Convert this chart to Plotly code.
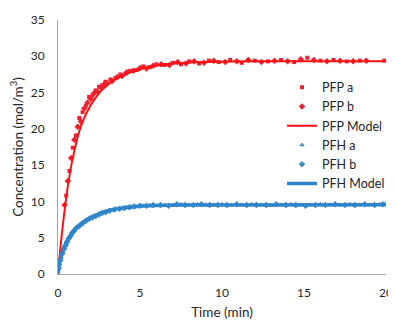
import plotly.graph_objects as go

# ---- data ----
pfp_a_t = [0.5, 0.7, 0.9, 1.1, 1.3, 1.5, 1.7, 1.9, 2.1, 2.3,
           2.5, 2.7, 2.9, 3.2, 3.5, 3.8, 4.1, 4.4, 4.8, 5.2,
           5.6, 6.0, 6.5, 7.0, 7.5, 8.0, 8.6, 9.2, 9.8, 10.5,
           11.2, 12.0, 12.8, 13.6, 14.4, 15.2, 16.0, 16.8, 17.6, 18.4, 19.9]
pfp_a_c = [10.8, 14.2, 17.4, 19.1, 21.5, 22.3, 23.2, 24.4, 24.6, 25.3,
           25.8, 26.0, 26.5, 26.8, 27.0, 27.5, 27.6, 28.0, 28.1, 28.6,
           28.5, 28.9, 28.8, 29.1, 28.9, 29.3, 29.0, 29.4, 29.2, 29.5,
           29.1, 29.4, 29.3, 29.5, 29.2, 29.8, 29.4, 29.5, 29.3, 29.4, 29.4]

pfp_b_t = [0.4, 0.6, 0.8, 1.0, 1.2, 1.4, 1.6, 1.8, 2.0, 2.2,
           2.4, 2.6, 2.8, 3.0, 3.3, 3.6, 3.9, 4.2, 4.6, 5.0,
           5.4, 5.8, 6.3, 6.8, 7.3, 7.8, 8.3, 8.9, 9.5, 10.2,
           10.9, 11.6, 12.4, 13.2, 14.0, 14.8, 15.6, 16.4, 17.2, 18.0, 18.8]
pfp_b_c = [9.5, 12.8, 16.0, 18.5, 20.3, 21.0, 22.8, 23.6, 24.1, 24.9,
           25.1, 25.7, 26.1, 26.3, 26.6, 27.1, 27.3, 27.8, 28.0, 28.4,
           28.3, 28.7, 28.9, 28.8, 29.2, 29.0, 29.3, 29.1, 29.4, 29.2,
           29.3, 29.5, 29.2, 29.4, 29.3, 29.6, 29.5, 29.3, 29.4, 29.3, 29.4]

pfp_model_t = [0, 0.1, 0.25, 0.5, 0.75, 1, 1.25, 1.5, 2, 2.5, 3, 3.5, 4,
               5, 6, 7, 8, 10, 12, 15, 20]
pfp_model_c = [0, 2.5, 5.8, 10.5, 14.2, 17.0, 19.3, 21.0, 23.3, 24.9, 26.0,
               26.8, 27.4, 28.2, 28.7, 29.0, 29.15, 29.25, 29.3, 29.3, 29.3]

pfh_a_t = [0, 0.1, 0.2, 0.3, 0.4, 0.5, 0.6, 0.7, 0.8, 0.9, 1.0,
           1.2, 1.4, 1.6, 1.8, 2.0, 2.2, 2.4, 2.6, 2.8, 3.0,
           3.3, 3.6, 3.9, 4.2, 4.5, 4.8, 5.2, 5.6, 6.0,
           6.5, 7.0, 7.5, 8.0, 8.5, 9.0, 9.5, 10.0,
           10.6, 11.2, 11.8, 12.4, 13.0, 13.6, 14.2, 14.8, 15.4, 16.0,
           16.6, 17.2, 17.8, 18.4, 19.0, 19.6, 20.0]
pfh_a_c = [0, 1.4, 2.3, 3.0, 3.6, 4.1, 4.6, 5.0, 5.4, 5.7, 6.0,
           6.5, 6.8, 7.2, 7.5, 7.7, 8.0, 8.1, 8.3, 8.5, 8.6,
           8.8, 9.0, 9.1, 9.2, 9.3, 9.3, 9.4, 9.5, 9.4,
           9.5, 9.5, 9.6, 9.5, 9.6, 9.5, 9.5, 9.6,
           9.5, 9.5, 9.6, 9.5, 9.4, 9.5, 9.6, 9.5, 9.5, 9.6,
           9.5, 9.5, 9.6, 9.5, 9.5, 9.6, 9.7]

pfh_b_t = [0.05, 0.15, 0.25, 0.35, 0.45, 0.55, 0.65, 0.75, 0.85, 0.95,
           1.1, 1.3, 1.5, 1.7, 1.9, 2.1, 2.3, 2.5, 2.7, 2.9,
           3.15, 3.45, 3.75, 4.05, 4.35, 4.65, 5.0, 5.4, 5.8,
           6.25, 6.75, 7.25, 7.75, 8.25, 8.75, 9.25, 9.75,
           10.3, 10.9, 11.5, 12.1, 12.7, 13.3, 13.9, 14.5, 15.1, 15.7,
           16.3, 16.9, 17.5, 18.1, 18.7, 19.3, 19.8]
pfh_b_c = [0.8, 1.9, 2.8, 3.4, 3.9, 4.4, 4.9, 5.2, 5.6, 5.9,
           6.3, 6.6, 7.0, 7.3, 7.6, 7.8, 8.0, 8.2, 8.4, 8.5,
           8.7, 8.9, 9.0, 9.1, 9.2, 9.3, 9.4, 9.4, 9.5,
           9.5, 9.4, 9.6, 9.5, 9.5, 9.6, 9.5, 9.5,
           9.5, 9.6, 9.5, 9.5, 9.5, 9.6, 9.5, 9.5, 9.4, 9.5,
           9.5, 9.6, 9.5, 9.5, 9.6, 9.5, 9.6]

pfh_model_t = [0, 0.1, 0.25, 0.5, 0.75, 1, 1.5, 2, 2.5, 3, 4, 5, 6, 8, 10, 20]
pfh_model_c = [0, 1.5, 3.0, 4.3, 5.3, 6.1, 7.1, 7.8, 8.3, 8.7, 9.1, 9.35,
               9.45, 9.5, 9.5, 9.55]

x_ticks = [0, 5, 10, 15, 20]
y_ticks = [0, 5, 10, 15, 20, 25, 30, 35]

RED = "#FF1010"
RED_M = "#F02030"
BLUE = "#2F84CC"
BLUE_A = "#4A8FB8"
BLUE_B = "#3A8CC8"
FONT = "Lato, 'Open Sans', sans-serif"
TXT = "#262626"

fig = go.Figure()
fig.add_trace(go.Scatter(x=pfp_a_t, y=pfp_a_c, mode="markers", name="PFP a",
                         marker=dict(symbol="square", size=4, color=RED_M)))
fig.add_trace(go.Scatter(x=pfp_b_t, y=pfp_b_c, mode="markers", name="PFP b",
                         marker=dict(symbol="diamond", size=5, color=RED_M)))
fig.add_trace(go.Scatter(x=pfp_model_t, y=pfp_model_c, mode="lines", name="PFP Model",
                         line=dict(color=RED, width=2, shape="spline")))
fig.add_trace(go.Scatter(x=pfh_a_t, y=pfh_a_c, mode="markers", name="PFH a",
                         marker=dict(symbol="triangle-up", size=5, color=BLUE_A)))
fig.add_trace(go.Scatter(x=pfh_b_t, y=pfh_b_c, mode="markers", name="PFH b",
                         marker=dict(symbol="diamond", size=5, color=BLUE_B)))
fig.add_trace(go.Scatter(x=pfh_model_t, y=pfh_model_c, mode="lines", name="PFH Model",
                         line=dict(color=BLUE, width=3.5, shape="spline")))

# page body has an 8px margin, so the figure is sized to the visible area
fig.update_layout(
    width=388, height=312,
    margin=dict(l=50, r=6, t=12, b=46),
    paper_bgcolor="white", plot_bgcolor="white",
    font=dict(family=FONT, size=12, color=TXT),
    showlegend=True,
    legend=dict(x=0.683, y=0.793, xanchor="left", yanchor="top",
                bgcolor="rgba(255,255,255,0)", font=dict(size=12.5, color=TXT),
                tracegroupgap=0, itemwidth=30),
    xaxis=dict(range=[0, 20], tickvals=x_ticks, showgrid=False, zeroline=False,
               showline=True, linecolor="#A6A6A6", linewidth=1, ticks="",
               ticklabelstandoff=8, automargin=False, ticklabeloverflow="allow",
               tickfont=dict(size=12, color=TXT),
               title=dict(text="Time (min)", font=dict(size=13.5, color=TXT), standoff=10)),
    yaxis=dict(range=[0, 35], tickvals=y_ticks, showgrid=False, zeroline=False,
               showline=True, linecolor="#A6A6A6", linewidth=1, ticks="",
               ticklabelstandoff=10, automargin=False,
               tickfont=dict(size=12, color=TXT),
               title=dict(text="Concentration (mol/m<sup>3</sup>)",
                          font=dict(size=13.5, color=TXT), standoff=8)),
)

fig.write_html("out.html")
